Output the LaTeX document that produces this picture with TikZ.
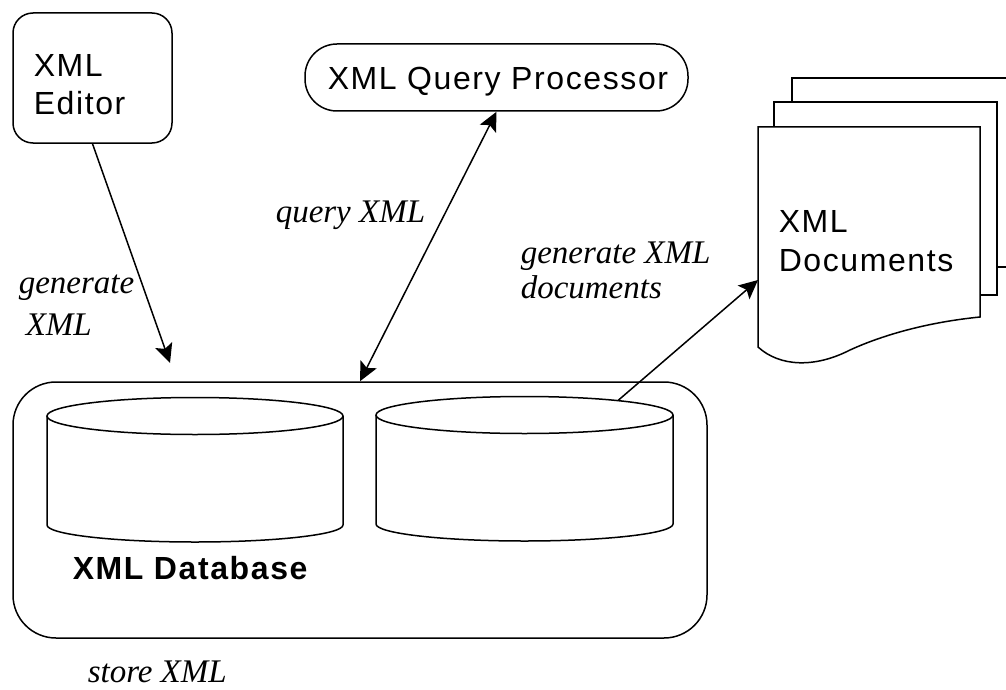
\documentclass[tikz,border=0pt]{standalone}
\usepackage{fontspec}
\setmainfont{Liberation Serif}
\setsansfont{Liberation Sans}
\newfontfamily\lblsans[LetterSpace=5]{Liberation Sans}
\usetikzlibrary{arrows.meta}
\begin{document}
\begin{tikzpicture}[x=1pt,y=-1pt,
  line width=1.5pt,
  box/.style={draw, fill=white, inner sep=0pt},
  sanslbl/.style={inner sep=0pt, anchor=base west, font=\lblsans\fontsize{32}{38}\selectfont},
  boldlbl/.style={inner sep=0pt, anchor=base west, font=\lblsans\bfseries\fontsize{32}{38}\selectfont},
  itlbl/.style={inner sep=0pt, anchor=base west, font=\itshape\fontsize{33}{40}\selectfont},
  arr/.style={-{Stealth[length=19pt,width=18pt,inset=4pt]}},
  darr/.style={{Stealth[length=19pt,width=18pt,inset=4pt]}-{Stealth[length=19pt,width=18pt,inset=4pt]}},
  page/.style={draw, fill=white, line join=miter}
]
\useasboundingbox (0,0) rectangle (1006,690);

% XML Editor
\node[box, rounded corners=20pt, minimum width=159pt, minimum height=130pt] (editor) at (92.5,78) {};
\node[sanslbl] (editorA) at (33,77) {XML};
\node[sanslbl] (editorB) at (33,115) {Editor};

% XML Query Processor
\node[box, rounded corners=32pt, minimum width=383pt, minimum height=67pt] (query) at (496.5,77.5) {};
\node[sanslbl] (queryt) at (327,90) {XML Query Processor};

% XML Database
\node[box, rounded corners=43pt, minimum width=694pt, minimum height=256pt] (db) at (360,510) {};

% cylinders
\draw (47,416) -- (47,525) arc[start angle=180, end angle=360, x radius=148pt, y radius=17pt] -- (343,416);
\draw (195,416) ellipse[x radius=148pt, y radius=18.5pt];
\draw (376,415) -- (376,524) arc[start angle=180, end angle=360, x radius=148.5pt, y radius=17pt] -- (673,415);
\draw (524.5,415) ellipse[x radius=148.5pt, y radius=18.5pt];
\coordinate (cyltop) at (618,400.5);

\node[boldlbl] (dbt) at (72,579) {XML Database};

% XML Documents (stack of pages)
\begin{scope}
\clip (0,0) rectangle (1006,690);
\draw[page] (792,78) rectangle (1030,267);
\draw[page] (774,102) rectangle (997,295);
\draw[page] (758,127) -- (980,127) -- (980,317)
  .. controls (930,322) and (885,334) .. (850,350)
  .. controls (815,368) and (780,367) .. (758,347) -- cycle;
\end{scope}
\coordinate (docin) at (758,280);
\node[sanslbl] (docA) at (778,232) {XML};
\node[sanslbl] (docB) at (778,271) {Documents};

% connectors
\coordinate (genin) at (170,363);
\draw[arr] (editor.south) -- (genin);
\draw[darr] (db.north) -- (query.south);
\draw[arr] (cyltop) -- (docin);

% labels
\node[itlbl] (g1) at (18,293) {generate};
\node[itlbl] (g2) at (25,335) {XML};
\node[itlbl] (q1) at (275,222) {query XML};
\node[itlbl] (d1) at (520,263) {generate XML};
\node[itlbl] (d2) at (520,298) {documents};
\node[itlbl] (s1) at (87,682) {store XML};
\end{tikzpicture}
\end{document}
